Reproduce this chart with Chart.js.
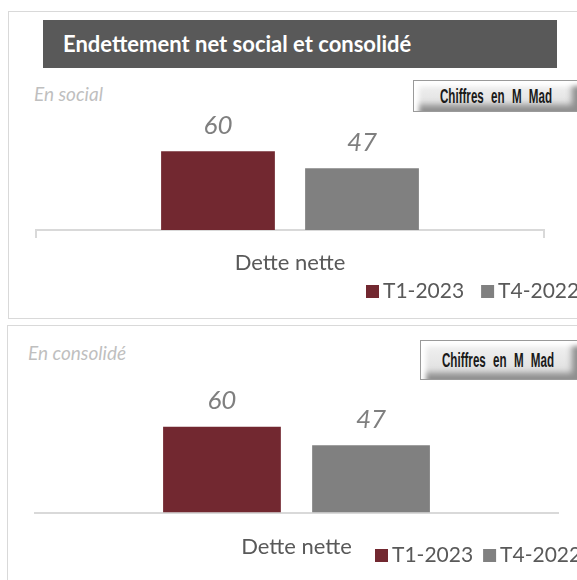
<!DOCTYPE html>
<html>
<head>
<meta charset="utf-8">
<script src="https://cdn.jsdelivr.net/npm/chart.js@4.4.1/dist/chart.umd.min.js"></script>
<style>
  body { margin: 0; width: 577px; height: 580px; overflow: hidden; background: #fff; position: relative; font-family: Lato, sans-serif; }
  .panel { position: absolute; border: 1px solid #d9d9d9; }
  #p1 { left: 8px; top: 11px; width: 620px; height: 306px; }
  #p2 { left: 7px; top: 325px; width: 620px; height: 300px; }
  #title { position: absolute; left: 43px; top: 20px; width: 514px; height: 48px; background: #595959; color: #fff;
           font-weight: bold; font-size: 22px; line-height: 48px; padding-left: 20px; box-sizing: border-box; }
  .sub { position: absolute; color: #bfbfbf; font-style: italic; font-size: 19px; }
  .btn { position: absolute; box-sizing: border-box; background: linear-gradient(#f3f3f3, #dcdcdc);
         border: 1px solid #9a9a9a; border-right: 3px solid #222;
         box-shadow: inset 5px 5px 5px #fff, inset -6px -6px 6px #8e8e8e;
         z-index: 2; white-space: nowrap; }
  .btn span { position: absolute; top: 0; font-family: "Liberation Sans", Arial, sans-serif; font-weight: bold; font-size: 20px;
              color: #1a1a1a; word-spacing: 7px; transform: translateX(-50%) scaleX(0.58); }
  canvas { position: absolute; left: 0; }
</style>
</head>
<body>
<div class="panel" id="p1"></div>
<div class="panel" id="p2"></div>
<div id="title">Endettement net social et consolidé</div>
<div class="sub" style="left:34px;top:82px;">En social</div>
<div class="sub" style="left:28px;top:341px;">En consolidé</div>
<div class="btn" style="left:413px;top:80px;width:168px;height:32px;line-height:30px;"><span style="left:82px;">Chiffres en M Mad</span></div>
<div class="btn" style="left:420px;top:340px;width:161px;height:40px;line-height:38px;"><span style="left:77px;">Chiffres en M Mad</span></div>
<canvas id="chartSocial" width="577" height="200" style="top:110px;width:577px;height:200px;"></canvas>
<canvas id="chartConso" width="577" height="200" style="top:380px;width:577px;height:200px;"></canvas>
<script>
// Data
const categories = ['Dette nette'];
const seriesNames = ['T1-2023', 'T4-2022'];
const socialValues = [60, 47];
const consoValues = [60, 47];
const seriesColors = ['#722830', '#808080'];

// Values written above the bars
const valueLabels = {
    id: 'valueLabels',
    afterDatasetsDraw(chart) {
        const ctx = chart.ctx;
        ctx.save();
        ctx.font = 'italic 26px Lato';
        ctx.fillStyle = '#7f7f7f';
        ctx.textAlign = 'center';
        ctx.textBaseline = 'middle';
        chart.data.datasets.forEach((ds, i) => {
            chart.getDatasetMeta(i).data.forEach((bar, j) => {
                ctx.fillText(ds.data[j], bar.x, bar.y - 26);
            });
        });
        ctx.restore();
    }
};

// Small square legend, like the Excel one
const boxLegend = {
    id: 'boxLegend',
    afterDraw(chart, args, opts) {
        const ctx = chart.ctx;
        ctx.save();
        ctx.font = '21px Lato';
        ctx.textBaseline = 'middle';
        let x = opts.x;
        chart.data.datasets.forEach(ds => {
            ctx.fillStyle = ds.backgroundColor;
            ctx.fillRect(x, opts.y - 6, 13, 13);
            x += 17;
            ctx.fillStyle = '#595959';
            ctx.fillText(ds.label, x, opts.y);
            x += ctx.measureText(ds.label).width + opts.gap;
        });
        ctx.restore();
    }
};

function makeChart(id, values, cfg) {
    return new Chart(document.getElementById(id), {
        type: 'bar',
        data: {
            labels: categories,
            datasets: seriesNames.map((name, i) => ({
                label: name,
                data: [values[i]],
                backgroundColor: seriesColors[i],
                categoryPercentage: cfg.catPct,
                barPercentage: 0.79
            }))
        },
        options: {
            responsive: false,
            animation: false,
            layout: { padding: cfg.padding },
            plugins: {
                legend: { display: false },
                tooltip: { enabled: false },
                boxLegend: cfg.legend
            },
            scales: {
                x: {
                    grid: { drawOnChartArea: false, drawTicks: cfg.ticks, tickLength: 8, color: '#d9d9d9', lineWidth: 2 },
                    border: { display: true, color: '#d9d9d9', width: 2 },
                    ticks: { font: { family: 'Lato', size: 22 }, color: '#595959', padding: cfg.labelPad },
                    afterFit: s => { s.height = cfg.axisHeight; }
                },
                y: { display: false, min: 0, max: 80 }
            }
        },
        plugins: [valueLabels, boxLegend]
    });
}

makeChart('chartSocial', socialValues, {
    padding: { left: 36, right: 33, top: 15, bottom: 0 },
    axisHeight: 80, ticks: true, labelPad: 12, catPct: 0.567,
    legend: { x: 366, y: 181, gap: 17 }
});

makeChart('chartConso', consoValues, {
    padding: { left: 35, right: 19, top: 18, bottom: 0 },
    axisHeight: 67.5, ticks: false, labelPad: 21, catPct: 0.57,
    legend: { x: 375, y: 175, gap: 10 }
});
</script>
</body>
</html>
